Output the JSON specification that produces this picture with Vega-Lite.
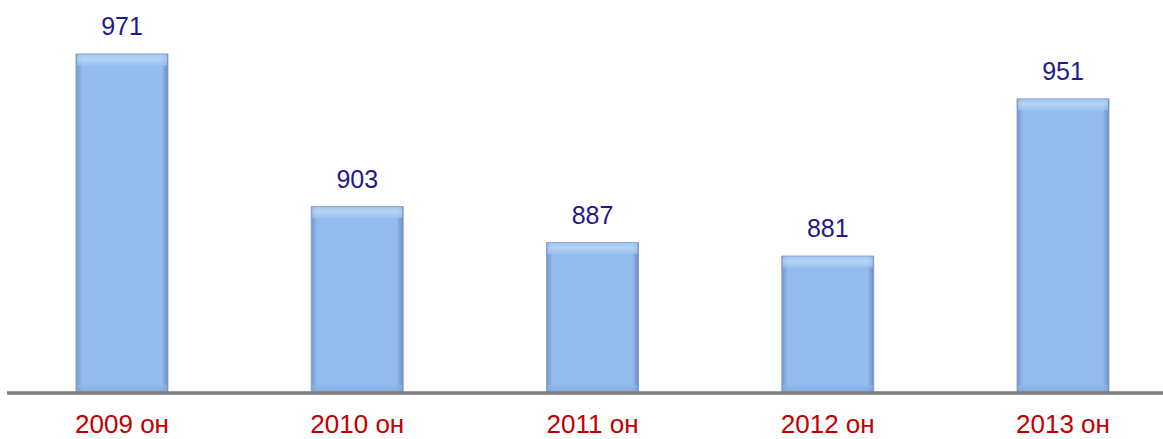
{
  "$schema": "https://vega.github.io/schema/vega-lite/v6.json",
  "autosize": {"type": "none"},
  "padding": {"left": 7, "top": 0, "right": 0, "bottom": 46},
  "width": 1156,
  "height": 393,
  "background": "white",
  "config": {"view": {"stroke": null}, "font": "Liberation Sans"},
  "data": {"values": [
    {"year": "2009 он", "value": 971},
    {"year": "2010 он", "value": 903},
    {"year": "2011 он", "value": 887},
    {"year": "2012 он", "value": 881},
    {"year": "2013 он", "value": 951}
  ]},
  "encoding": {
    "x": {"field": "year", "type": "nominal", "sort": null,
      "scale": {"range": [15, 1156], "paddingInner": 0.609, "paddingOuter": 0.2296},
      "axis": {"title": null, "labelAngle": 0, "labelFontSize": 26, "labelColor": "#C00000", "labelFont": "Liberation Sans",
        "ticks": false, "labelPadding": 18, "domain": false, "grid": false}},
    "y": {"field": "value", "type": "quantitative",
      "scale": {"domain": [820, 995], "zero": false, "nice": false},
      "axis": null}
  },
  "layer": [
    {"mark": {"type": "bar", "clip": true,
      "color": {"gradient": "linear", "x1": 0, "x2": 1, "y1": 0, "y2": 0,
        "stops": [
          {"offset": 0, "color": "#7598CC"},
          {"offset": 0.07, "color": "#94BDEF"},
          {"offset": 0.93, "color": "#94BDEF"},
          {"offset": 1, "color": "#6A8CC0"}
        ]},
      "stroke": "#7C9BC8", "strokeWidth": 0.8}},
    {"mark": {"type": "tick", "thickness": 11, "size": 90, "yOffset": 6,
      "color": {"gradient": "linear", "x1": 0, "x2": 0, "y1": 0, "y2": 1,
        "stops": [
          {"offset": 0, "color": "#A9CBF3"},
          {"offset": 0.4, "color": "#C3DCF7"},
          {"offset": 1, "color": "#9EC4F0"}
        ]}}},
    {"mark": {"type": "tick", "thickness": 8, "size": 90, "yOffset": -4,
      "color": {"gradient": "linear", "x1": 0, "x2": 0, "y1": 0, "y2": 1,
        "stops": [
          {"offset": 0, "color": "#91B8EA"},
          {"offset": 1, "color": "#7C9FD3"}
        ]}},
      "encoding": {"y": {"datum": 820, "type": "quantitative"}}},
    {"mark": {"type": "rule", "color": "#808080", "strokeWidth": 2.5},
      "encoding": {"x": null, "y": {"datum": 820, "type": "quantitative"}}},
    {"mark": {"type": "text", "fontSize": 25, "color": "#1F1A8C", "baseline": "alphabetic", "dy": -19, "font": "Liberation Sans"},
      "encoding": {"text": {"field": "value", "type": "quantitative"}}}
  ]
}
